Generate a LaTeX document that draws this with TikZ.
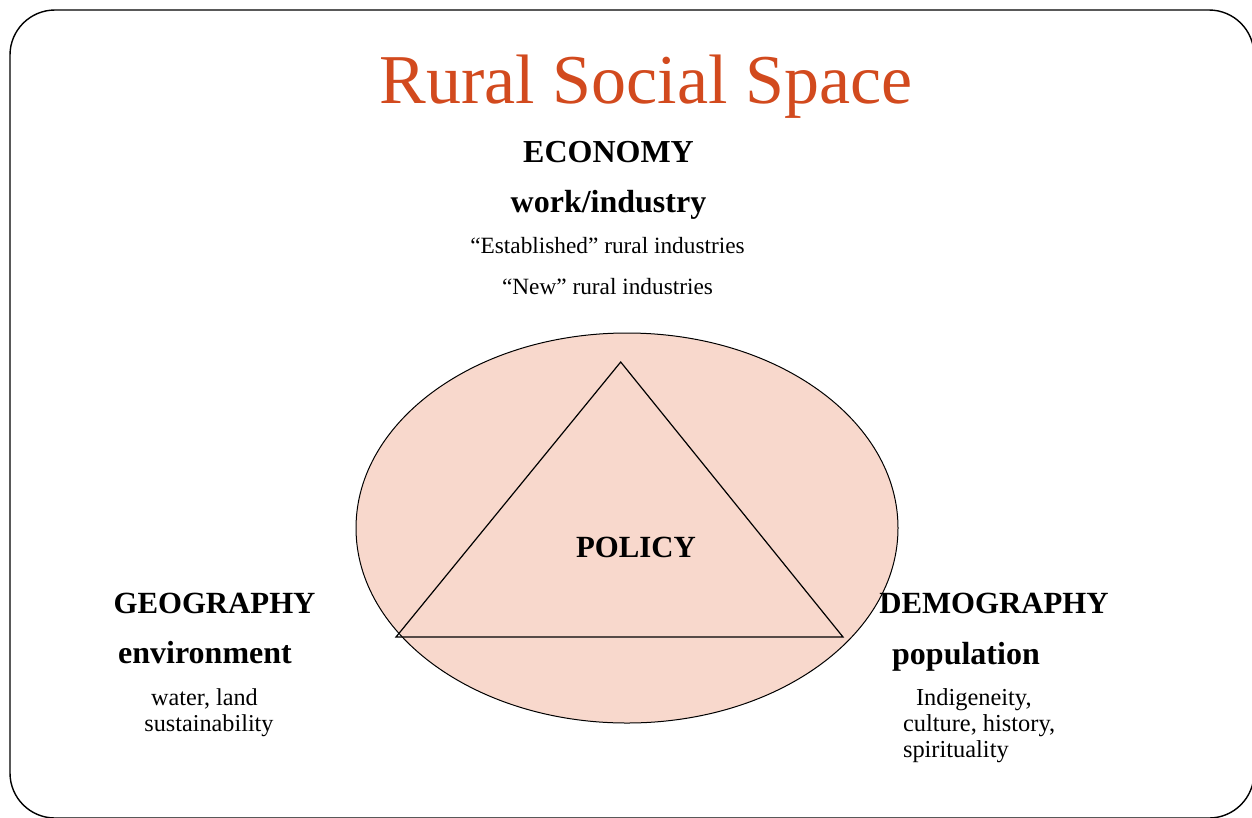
\documentclass[tikz,border=0pt]{standalone}
\usepackage{fontspec}
\usetikzlibrary{shapes.geometric}
\setmainfont{Liberation Serif}
\definecolor{ellfill}{HTML}{F8D8CC}
\definecolor{titlecol}{HTML}{D24A1E}
\begin{document}
\begin{tikzpicture}[x=1pt,y=-1pt,
  every node/.style={inner sep=0pt,outer sep=0pt},
  head/.style={font=\fontsize{30.8}{31}\selectfont\bfseries,anchor=base},
  sub/.style={font=\fontsize{32}{32}\selectfont\bfseries,anchor=base},
  small/.style={font=\fontsize{23.3}{24}\selectfont,anchor=base},
  smallc/.style={font=\fontsize{24.2}{25}\selectfont,anchor=base},
  smallw/.style={font=\fontsize{24.4}{25}\selectfont,anchor=base west}]
\useasboundingbox (0,0) rectangle (1252,817);
\begin{scope}
\clip (0,0) rectangle (1252,817);
\draw[line width=1.4pt,rounded corners=45pt] (10,10) rectangle (1254,818);
\end{scope}
\node[font=\fontsize{70}{70}\selectfont,text=titlecol,anchor=base] (title) at (646,103) {Rural Social Space};
% ellipse and triangle
\node[draw,line width=1pt,fill=ellfill,ellipse,minimum width=542pt,minimum height=390pt] (ell) at (627,528) {};
\coordinate (tA) at (620.7,362);
\coordinate (tB) at (396,637);
\coordinate (tC) at (843,637);
\draw[line width=1.2pt,line join=miter] (tA) -- (tB) -- (tC) -- cycle;
\node[head] (policy) at (636,557) {POLICY};
% economy
\node[sub] (econ) at (608.5,162) {ECONOMY};
\node[sub] (work) at (608.5,212) {work/industry};
\node[small] (est) at (607.5,253) {“Established” rural industries};
\node[small] (new) at (607.5,294.5) {“New” rural industries};
% geography
\node[head] (geo) at (214.5,613) {GEOGRAPHY};
\node[sub] (env) at (205,663) {environment};
\node[smallc] (water) at (204.5,705) {water, land};
\node[smallc] (sust) at (209,731) {sustainability};
% demography
\node[head] (demo) at (994,613) {DEMOGRAPHY};
\node[sub] (pop) at (966,664) {population};
\node[smallw] (ind) at (916,705) {Indigeneity,};
\node[smallw] (cult) at (903,731) {culture, history,};
\node[smallw] (spir) at (903,757) {spirituality};
\end{tikzpicture}
\end{document}
